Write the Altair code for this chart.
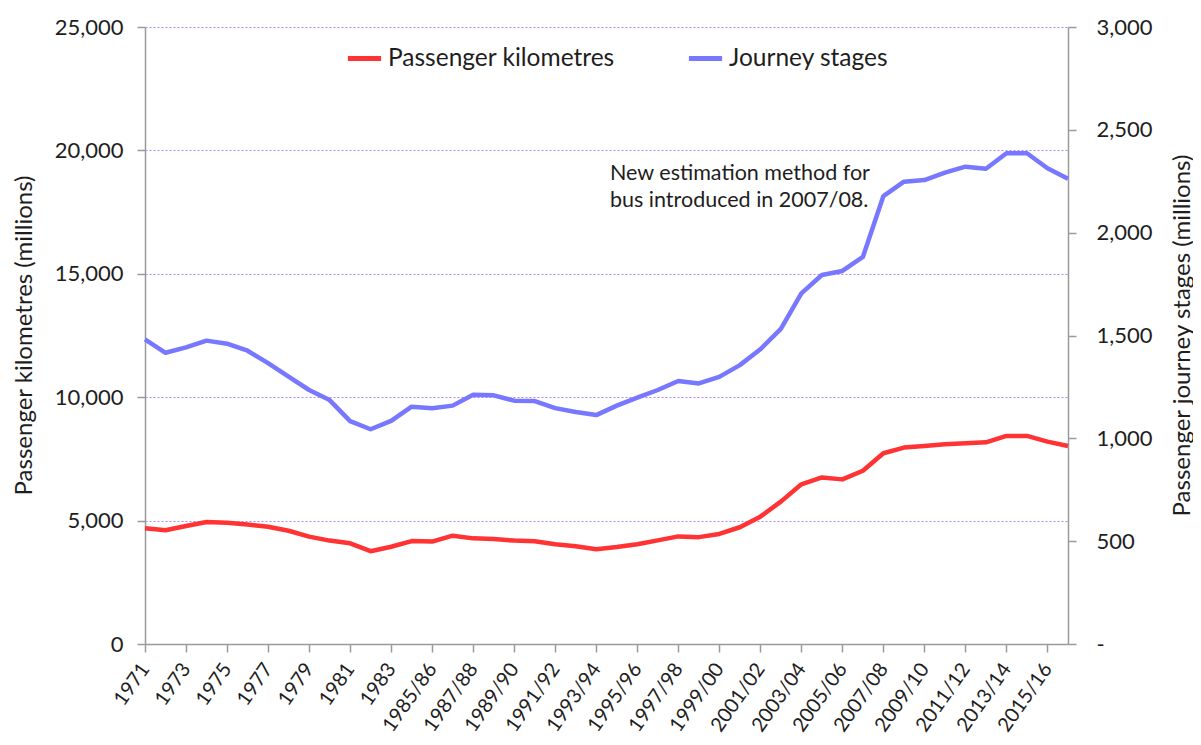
import altair as alt
import pandas as pd

years = ["1971", "1972", "1973", "1974", "1975", "1976", "1977", "1978", "1979", "1980",
         "1981", "1982", "1983", "1984/85", "1985/86", "1986/87", "1987/88", "1988/89",
         "1989/90", "1990/91", "1991/92", "1992/93", "1993/94", "1994/95", "1995/96",
         "1996/97", "1997/98", "1998/99", "1999/00", "2000/01", "2001/02", "2002/03",
         "2003/04", "2004/05", "2005/06", "2006/07", "2007/08", "2008/09", "2009/10",
         "2010/11", "2011/12", "2012/13", "2013/14", "2014/15", "2015/16", "2016/17"]

passenger_km = [4690, 4610, 4780, 4940, 4910, 4840, 4750, 4590, 4350, 4190,
                4080, 3760, 3940, 4170, 4150, 4390, 4280, 4250, 4190, 4160,
                4040, 3960, 3840, 3930, 4040, 4200, 4360, 4330, 4460, 4730,
                5160, 5770, 6470, 6750, 6670, 7020, 7730, 7960, 8020, 8090,
                8130, 8170, 8430, 8430, 8200, 8020]

journey_stages = [1481, 1416, 1442, 1475, 1460, 1426, 1366, 1300, 1235, 1186,
                  1084, 1044, 1085, 1154, 1146, 1159, 1212, 1209, 1183, 1181,
                  1147, 1128, 1113, 1159, 1198, 1235, 1279, 1267, 1299, 1356,
                  1433, 1532, 1705, 1794, 1814, 1882, 2178, 2248, 2256, 2292,
                  2321, 2311, 2386, 2386, 2313, 2262]

series_names = ["Passenger kilometres", "Journey stages"]
series_colors = ["#FF3333", "#7777FF"]
left_ticks = [0, 5000, 10000, 15000, 20000, 25000]
right_ticks = [0, 500, 1000, 1500, 2000, 2500, 3000]
note_text = "New estimation method for\nbus introduced in 2007/08."

FONT = "Lato"
TXT = "#1e1e1e"
AXC = "#9a9a9a"

df = pd.DataFrame({"idx": list(range(len(years))), "year": years,
                   "pkm": passenger_km, "stages": journey_stages})

year_array = "[" + ",".join("'" + y + "'" for y in years) + "]"
color_scale = alt.Scale(domain=series_names, range=series_colors)

x_enc = alt.X(
    "idx:Q", title=None,
    scale=alt.Scale(domain=[0, len(years) - 1], nice=False, zero=False),
    axis=alt.Axis(values=list(range(0, len(years), 2)),
                  labelExpr=year_array + "[datum.value]",
                  labelAngle=-55, labelFontSize=20, labelPadding=13,
                  labelOverlap=False, labelBound=False, labelFlush=False,
                  tickSize=8, ticks=True, domainColor=AXC, tickColor=AXC,
                  domainWidth=1.5, tickWidth=1.5, grid=False),
)

base = alt.Chart(df)

red = base.transform_calculate(series="'Passenger kilometres'").mark_line(
    strokeWidth=4.5, strokeJoin="round"
).encode(
    x=x_enc,
    y=alt.Y("pkm:Q", scale=alt.Scale(domain=[0, 25000], nice=False),
            axis=alt.Axis(values=left_ticks, labelExpr="format(datum.value, ',d')",
                          title="Passenger kilometres (millions)",
                          labelFontSize=22, labelPadding=14, tickSize=8,
                          grid=True, gridColor="#9966FF", gridDash=[2, 2], gridWidth=1, gridOpacity=0.8,
                          domainColor=AXC, tickColor=AXC, domainWidth=1.5, tickWidth=1.5,
                          titleFontSize=24, titleAngle=270, titleX=-121, titleY=308,
                          titleAlign="center", titleBaseline="middle")),
    color=alt.Color("series:N", scale=color_scale, legend=alt.Legend(
        title=None, orient="none", legendX=200, legendY=12, direction="horizontal",
        symbolType="stroke", symbolStrokeWidth=5, symbolSize=1100, labelFontSize=24.5,
        labelFont=FONT, labelColor=TXT, labelLimit=0, columnPadding=63, labelOffset=4,
        padding=0)),
    tooltip=["year:N", "pkm:Q"],
)

blue = base.transform_calculate(series="'Journey stages'").mark_line(
    strokeWidth=4.5, strokeJoin="round"
).encode(
    x=x_enc,
    y=alt.Y("stages:Q", scale=alt.Scale(domain=[0, 3000], nice=False),
            axis=alt.Axis(orient="right", values=right_ticks,
                          labelExpr="datum.value == 0 ? '-' : format(datum.value, ',d')",
                          title="Passenger journey stages (millions)",
                          labelFontSize=22, labelPadding=20, tickSize=8, grid=False,
                          domainColor=AXC, tickColor=AXC, domainWidth=1.5, tickWidth=1.5,
                          titleFontSize=24, titleAngle=270, titleX=114, titleY=308,
                          titleAlign="center", titleBaseline="middle")),
    color=alt.Color("series:N", scale=color_scale),
    tooltip=["year:N", "stages:Q"],
)

note = alt.Chart(pd.DataFrame({"note": [note_text]})).mark_text(
    align="left", baseline="alphabetic", fontSize=21.5, font=FONT, color=TXT,
    lineBreak="\n", lineHeight=27
).encode(
    x=alt.value(465), y=alt.value(153), text="note:N"
)

chart = alt.layer(red, blue, note).resolve_scale(y="independent").properties(
    width=923, height=617,
    background="white",
    autosize=alt.AutoSizeParams(type="none"),
    padding={"left": 137, "top": 19, "right": 125, "bottom": 93},
).configure_view(stroke=None).configure_axis(
    labelFont=FONT, titleFont=FONT, labelColor=TXT, titleColor=TXT, titleFontWeight="normal"
)

chart.save("out.html", embed_options={"renderer": "svg", "actions": False})
